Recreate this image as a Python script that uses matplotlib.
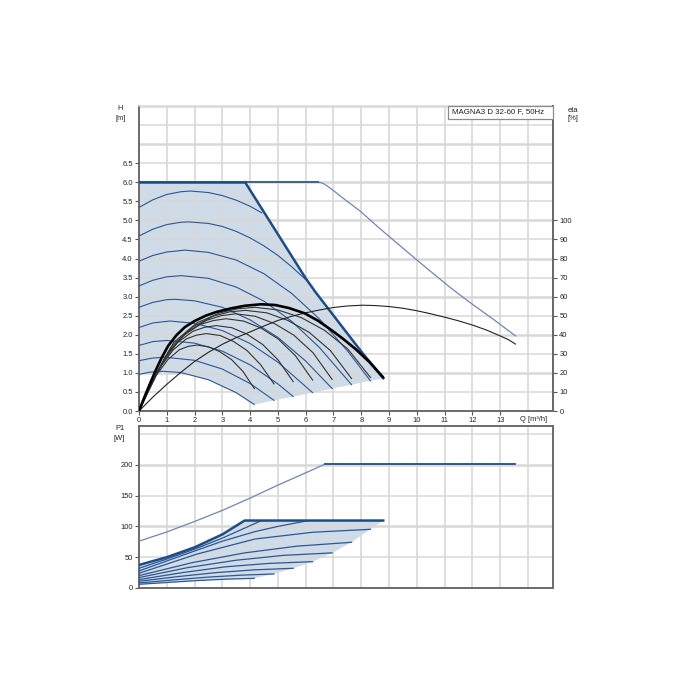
import matplotlib
matplotlib.use('Agg')
import matplotlib.pyplot as plt
from matplotlib.patches import Polygon, Rectangle

plt.rcParams['font.family'] = ['Liberation Sans', 'DejaVu Sans']

# ---------------- DATA ----------------
title = "MAGNA3 D 32-60 F, 50Hz"
x_ticks = list(range(0, 14))
h_ticks = [0.0, 0.5, 1.0, 1.5, 2.0, 2.5, 3.0, 3.5, 4.0, 4.5, 5.0, 5.5, 6.0, 6.5]
eta_ticks = list(range(0, 101, 10))
p_ticks = [0, 50, 100, 150, 200]

# max curve (H) outside limits
max_q = [0, 6.45, 6.55, 6.65, 6.8, 7.0, 7.4, 7.95, 8.66, 9.5, 10.43, 11.2, 11.96, 12.8, 13.55]
max_h = [6.0, 6.0, 5.99, 5.96, 5.89, 5.78, 5.55, 5.25, 4.79, 4.27, 3.70, 3.24, 2.82, 2.38, 1.97]

# top limit of the operating area (constant 6 m then power limit)
top_q = [0, 3.82]
top_h = [6.0, 6.0]
limit_q = [3.82, 6.0, 6.35, 8.01, 8.79]
limit_h = [6.0, 3.48, 3.12, 1.55, 0.86]
# lower edge (end points of speed curves)
edge_q = [4.15, 8.79]
edge_h = [0.17, 0.86]

# speed curves H(Q)
s1_q = [0, 0.5, 1.0, 1.5, 1.85, 2.5, 3.0, 3.5, 4.0, 4.41]
s1_h = [5.34, 5.54, 5.68, 5.75, 5.77, 5.73, 5.65, 5.53, 5.37, 5.2]
s2_q = [0, 0.5, 1.0, 1.5, 1.8, 2.5, 3.0, 3.5, 4.0, 4.5, 5.0, 5.5, 6.1]
s2_h = [4.59, 4.77, 4.89, 4.95, 4.96, 4.92, 4.84, 4.71, 4.54, 4.33, 4.08, 3.78, 3.38]
s3_q = [0, 0.5, 1.0, 1.65, 2.5, 3.5, 4.5, 5.5, 6.5, 7.5, 8.33]
s3_h = [3.93, 4.08, 4.17, 4.22, 4.16, 3.96, 3.60, 3.08, 2.41, 1.58, 0.79]
s4_q = [0, 0.5, 1.0, 1.53, 2.5, 3.5, 4.5, 5.5, 6.5, 7.65]
s4_h = [3.28, 3.43, 3.52, 3.55, 3.48, 3.25, 2.88, 2.35, 1.66, 0.69]
s5_q = [0, 0.5, 1.0, 1.29, 2.0, 3.0, 4.0, 5.0, 6.0, 6.95]
s5_h = [2.72, 2.85, 2.92, 2.93, 2.89, 2.72, 2.39, 1.93, 1.31, 0.59]
s6_q = [0, 0.5, 1.11, 2.0, 3.0, 4.0, 5.0, 6.25]
s6_h = [2.19, 2.31, 2.36, 2.30, 2.11, 1.77, 1.28, 0.48]
s7_q = [0, 0.5, 1.0, 2.0, 3.0, 4.0, 5.0, 5.55]
s7_h = [1.72, 1.82, 1.85, 1.78, 1.57, 1.21, 0.71, 0.38]
s8_q = [0, 0.5, 0.94, 2.0, 3.0, 4.0, 4.86]
s8_h = [1.32, 1.39, 1.41, 1.33, 1.10, 0.72, 0.28]
s9_q = [0, 0.4, 0.87, 1.5, 2.5, 3.5, 4.15]
s9_h = [0.96, 1.02, 1.04, 1.01, 0.82, 0.48, 0.17]

# efficiency curves (eta %)
eta_max_q = [0, 0.5, 1.0, 1.5, 2.0, 2.5, 3.0, 3.5, 4.0, 4.5, 5.0, 5.5, 6.0, 6.5, 7.0, 7.5,
             8.06, 8.5, 9.0, 9.5, 10.0, 10.5, 11.06, 11.5, 12.02, 12.5, 12.98, 13.3, 13.55]
eta_max_v = [0, 7.3, 14, 20.2, 26, 30.8, 35, 38.5, 41.5, 44.6, 47.5, 49.7, 51.5, 53, 54.3, 55.1,
             55.5, 55.3, 54.8, 53.9, 52.6, 51, 49, 47.3, 45, 42.5, 39.5, 37.4, 35.1]
eta_lim_q = [0, 0.2, 0.4, 0.58, 0.8, 1.05, 1.35, 1.65, 2.0, 2.4, 2.8, 3.3, 3.8, 4.4, 4.9,
             5.4, 5.97, 6.45, 6.93, 7.35, 7.77, 8.3, 8.79]
eta_lim_v = [0, 7.5, 14.5, 20.6, 27.5, 34.2, 39.8, 44.0, 47.2, 50, 52, 53.8, 55.2, 56, 55.6,
             54, 51.2, 47.3, 42.4, 37.8, 32.8, 25.6, 17.6]
e1_q = [0, 0.3, 0.62, 1.04, 1.46, 1.77, 2.08, 2.50, 2.91, 3.33, 3.74, 4.15]
e1_v = [0, 9.0, 18.7, 27.0, 32.2, 33.9, 34.6, 33.7, 31.1, 27.0, 20.8, 11.8]
e2_q = [0, 0.3, 0.73, 1.22, 1.70, 2.07, 2.43, 2.92, 3.40, 3.89, 4.37, 4.86]
e2_v = [0, 9.3, 22.3, 31.9, 37.8, 39.8, 40.6, 39.6, 36.5, 31.7, 24.4, 14.2]
e3_q = [0, 0.3, 0.83, 1.39, 1.95, 2.36, 2.78, 3.34, 3.89, 4.45, 5.0, 5.55]
e3_v = [0, 9.6, 25.2, 36.0, 41.9, 43.9, 44.8, 43.7, 40.3, 34.9, 26.9, 15.4]
e4_q = [0, 0.3, 0.94, 1.57, 2.19, 2.66, 3.13, 3.76, 4.38, 5.01, 5.63, 6.25]
e4_v = [0, 9.9, 28.3, 39.3, 45.3, 47.4, 48.4, 47.2, 43.6, 37.8, 29.0, 16.2]
e5_q = [0, 0.3, 1.04, 1.74, 2.44, 2.96, 3.48, 4.18, 4.87, 5.57, 6.26, 6.95]
e5_v = [0, 10.1, 30.8, 41.5, 47.6, 50.0, 51.0, 49.7, 45.9, 39.8, 30.6, 16.6]
e6_q = [0, 0.3, 1.15, 1.92, 2.68, 3.26, 3.83, 4.60, 5.36, 6.13, 6.89, 7.65]
e6_v = [0, 10.3, 33.5, 44.0, 49.8, 52.0, 52.8, 51.5, 47.5, 41.2, 31.7, 17.0]
e7_q = [0, 0.3, 1.25, 2.09, 2.92, 3.54, 4.17, 5.0, 5.84, 6.67, 7.51, 8.33]
e7_v = [0, 10.5, 36.0, 46.3, 51.5, 53.6, 54.4, 53.0, 49.0, 42.4, 32.6, 17.6]

# power P1 (W)
pmax_q = [0, 1, 2, 3, 3.45, 4, 5, 6, 6.69, 13.55]
pmax_p = [76, 91, 108, 126, 135, 146, 167, 187, 201, 201]
plim_q = [0, 1, 2, 3, 3.8, 8.79]
plim_p = [37.4, 50, 66, 87, 109.5, 109.5]
p1_q = [0, 1, 2, 3, 4.41]
p1_p = [32, 47, 63, 81, 109.5]
p2_q = [0, 1.5, 3.0, 4.17, 5.0, 6.1]
p2_p = [27.7, 52, 76, 91.5, 100, 109.5]
p3_q = [0, 2.08, 4.17, 6.25, 8.33]
p3_p = [23.9, 55, 79.5, 90.5, 95.3]
p4_q = [0, 1.9, 3.8, 5.7, 7.65]
p4_p = [20.1, 41, 57, 68, 74.2]
p5_q = [0, 1.74, 3.48, 5.2, 6.95]
p5_p = [16.9, 33, 45, 53, 57]
p6_q = [0, 1.56, 3.13, 4.7, 6.25]
p6_p = [13.6, 25, 34.5, 40, 42.8]
p7_q = [0, 1.39, 2.78, 4.16, 5.55]
p7_p = [10.9, 18.5, 25, 29.5, 32]
p8_q = [0, 1.22, 2.43, 3.65, 4.86]
p8_p = [8.2, 13, 17.5, 20.8, 22.8]
p9_q = [0, 1.04, 2.08, 3.11, 4.15]
p9_p = [6, 9, 12, 14.3, 15.7]
pedge_q = [4.15, 4.86, 5.55, 6.25, 6.95, 7.65, 8.33, 8.79]
pedge_p = [15.7, 22.8, 32, 42.8, 57, 74.2, 95.3, 109.5]

# ---------------- STYLE ----------------
DARK = '#1d4d88'
LINE = '#2b5795'
THIN = '#6f86b3'
FILL = '#cfdbe7'
GRID = '#d8d8d8'
SPINE = '#6a6a6a'
FS = 5.4

W = H = 700
fig = plt.figure(figsize=(7, 7), dpi=100)


def rect(l, t, r, b):
    return [l / W, 1 - b / H, (r - l) / W, (b - t) / H]


ax1 = fig.add_axes(rect(139, 106, 553, 411))
ax2 = fig.add_axes(rect(139, 426, 553, 588))
XMAX = 14.9
ax1.set_xlim(0, XMAX)
ax1.set_ylim(0, 8)
ax2.set_xlim(0, XMAX)
ax2.set_ylim(0, 263)

# grids
for ax, ymax, step, bold in [(ax1, 8.0, 0.5, 1.0), (ax2, 250, 50, 100)]:
    for xv in range(1, 15):
        ax.axvline(xv, color=GRID, lw=1.2, zorder=1.5)
    yv = step
    while yv <= ymax + 1e-6:
        isb = abs((yv / bold) - round(yv / bold)) < 1e-6
        ax.axhline(yv, color=GRID, lw=1.8 if isb else 1.1, zorder=1.5)
        yv += step

# ---------- top chart ----------
poly_top = list(zip(top_q, top_h)) + list(zip(limit_q, limit_h)) + \
    list(zip(edge_q[::-1], edge_h[::-1])) + list(zip(s9_q[::-1], s9_h[::-1]))
ax1.add_patch(Polygon(poly_top, closed=True, facecolor=FILL, edgecolor='none', zorder=1))

for q, h in [(s1_q, s1_h), (s2_q, s2_h), (s3_q, s3_h), (s4_q, s4_h), (s5_q, s5_h),
             (s6_q, s6_h), (s7_q, s7_h), (s8_q, s8_h), (s9_q, s9_h)]:
    ax1.plot(q, h, color=LINE, lw=0.8, zorder=3)

ax1.plot(max_q[1:], max_h[1:], color=THIN, lw=0.9, zorder=3)
ax1.plot([0, 6.45], [6.0, 6.0], color=DARK, lw=1.2, zorder=4)
ax1.plot(top_q, top_h, color=DARK, lw=1.8, zorder=4)
ax1.plot(limit_q, limit_h, color=DARK, lw=1.8, zorder=4)

ax1e = ax1.twinx()
ax1e.set_ylim(0, 160)
for q, v in [(e1_q, e1_v), (e2_q, e2_v), (e3_q, e3_v), (e4_q, e4_v), (e5_q, e5_v),
             (e6_q, e6_v), (e7_q, e7_v)]:
    ax1e.plot(q, v, color='#333333', lw=0.8, zorder=3)
ax1e.plot(eta_max_q, eta_max_v, color='#222222', lw=0.8, zorder=3)
ax1e.plot(eta_lim_q, eta_lim_v, color='#000000', lw=1.9, zorder=4,
          solid_capstyle='round', solid_joinstyle='round')

# ticks & spines top chart
ax1.set_xticks(x_ticks)
ax1.set_xticklabels([str(v) for v in x_ticks])
ax1.set_yticks(h_ticks)
ax1.set_yticklabels(['%.1f' % v for v in h_ticks])
ax1e.set_yticks(eta_ticks)
ax1e.set_yticklabels([str(v) for v in eta_ticks])
for a in (ax1, ax1e, ax2):
    a.tick_params(axis='both', direction='out', length=3, width=0.8, color='#555555',
                  labelsize=FS, pad=1.5, labelcolor='#222222')
for s in ['left', 'bottom', 'right']:
    ax1.spines[s].set_color(SPINE)
    ax1.spines[s].set_linewidth(1.4)
ax1.spines['top'].set_color(GRID)
ax1.spines['top'].set_linewidth(1.1)
for s in ['left', 'bottom', 'top']:
    ax1e.spines[s].set_visible(False)
ax1e.spines['right'].set_color(SPINE)
ax1e.spines['right'].set_linewidth(1.4)

# ---------- bottom chart ----------
poly_bot = list(zip(plim_q, plim_p)) + list(zip(pedge_q[::-1], pedge_p[::-1])) + \
    list(zip(p9_q[::-1], p9_p[::-1]))
ax2.add_patch(Polygon(poly_bot, closed=True, facecolor=FILL, edgecolor='none', zorder=1))
for q, p in [(p1_q, p1_p), (p2_q, p2_p), (p3_q, p3_p), (p4_q, p4_p), (p5_q, p5_p),
             (p6_q, p6_p), (p7_q, p7_p), (p8_q, p8_p), (p9_q, p9_p)]:
    ax2.plot(q, p, color=LINE, lw=0.9, zorder=3)
ax2.plot(pmax_q[:9], pmax_p[:9], color=THIN, lw=0.9, zorder=3)
ax2.plot(pmax_q[8:], pmax_p[8:], color=DARK, lw=1.3, zorder=3)
ax2.plot(plim_q, plim_p, color=DARK, lw=1.8, zorder=4)

ax2.set_xticks(list(range(0, 15)))
ax2.set_xticklabels([])
ax2.tick_params(axis='x', length=0)
ax2.set_yticks(p_ticks)
ax2.set_yticklabels([str(v) for v in p_ticks])
for s in ax2.spines:
    ax2.spines[s].set_color(SPINE)
    ax2.spines[s].set_linewidth(1.4)

# ---------- labels ----------
def ftext(x, y, s, **kw):
    fig.text(x / W, 1 - y / H, s, fontsize=FS, color='#222222', **kw)


ftext(120, 108, 'H', ha='center', va='center')
ftext(121, 118, '[m]', ha='center', va='center')
ftext(573, 110, 'eta', ha='center', va='center')
ftext(573, 118.5, '[%]', ha='center', va='center')
ftext(120, 428.5, 'P1', ha='center', va='center')
ftext(119.5, 438.5, '[W]', ha='center', va='center')
ftext(520, 419.5, 'Q [m³/h]', ha='left', va='center')

fig.patches.append(Rectangle((448 / W, 1 - 118.5 / H), 105 / W, 12.5 / H,
                             transform=fig.transFigure, facecolor='white',
                             edgecolor='#8a8a8a', lw=0.9, zorder=10))
fig.text(452 / W, 1 - 112 / H, title, fontsize=5.7, color='#222222',
         ha='left', va='center', zorder=11)

fig.savefig('out.png', dpi=100)
